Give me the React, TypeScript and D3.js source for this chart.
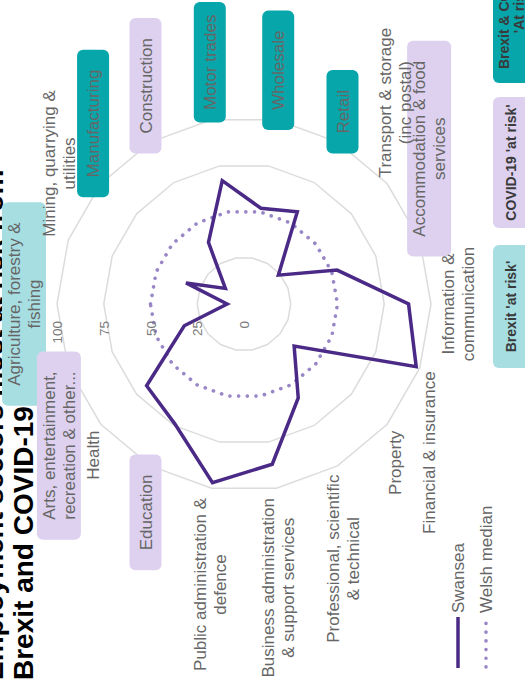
import React, { useEffect, useRef } from 'react';
import * as d3 from 'd3';

const sectors = [
  'Agriculture, forestry &\nfishing',
  'Mining, quarrying &\nutilities',
  'Manufacturing',
  'Construction',
  'Motor trades',
  'Wholesale',
  'Retail',
  'Transport & storage\n(inc postal)',
  'Accommodation & food\nservices',
  'Information &\ncommunication',
  'Financial & insurance',
  'Property',
  'Professional, scientific\n& technical',
  'Business administration\n& support services',
  'Public administration &\ndefence',
  'Education',
  'Health',
  'Arts, entertainment,\nrecreation & other...',
];
const riskGroups = ['brexit', 'none', 'both', 'covid', 'both', 'both', 'both', 'none', 'covid', 'none', 'none', 'none', 'none', 'none', 'none', 'covid', 'none', 'covid'];
const swansea = [9, 33, 13, 38, 67, 52, 57, 24, 53, 88, 98, 35, 58, 87, 97, 74, 68, 34];
const welshMedian = [50, 50, 50, 50, 50, 50, 50, 50, 50, 50, 50, 50, 50, 50, 50, 50, 50, 50];
const gridLevels = [25, 75, 100];
const tickValues = [0, 25, 50, 75, 100];
const tickLabels = ['0', '25', '50', '75', '100'];
const riskKeys = ['brexit', 'covid', 'both'];
const riskLabels = ["Brexit 'at risk'", "COVID-19 'at risk'", "Brexit & COVID-19\n'At risk'"];
const seriesNames = ['Swansea', 'Welsh median'];
const titleLines = ['Employment sectors most at risk from', 'Brexit and COVID-19'];

const riskColors: Record<string, string> = { brexit: '#a6dee2', covid: '#ddd1ef', both: '#07a6ab' };
const FONT = "'Liberation Sans', Arial, Helvetica, sans-serif";

export default function App() {
  const ref = useRef<SVGSVGElement>(null);
  useEffect(() => {
    const svg = d3.select(ref.current);
    svg.selectAll('*').remove();
    const W = 686; // original (unrotated) width
    const cx = 382, cy = 244, R = 187;
    const g = svg.append('g').attr('transform', `translate(0,${W}) rotate(-90)`).attr('font-family', FONT);

    const r = d3.scaleLinear().domain([0, 100]).range([0, R]);
    const n = sectors.length;
    const ang = d3.scaleLinear().domain([0, n]).range([0, 2 * Math.PI]);
    const radial = (vals: number[]) =>
      d3.lineRadial<number>().angle((_, i) => ang(i)).radius((d) => r(d)).curve(d3.curveLinearClosed)(vals) as string;

    // title
    titleLines.forEach((t, i) => {
      g.append('text').attr('x', 6).attr('y', 3 + i * 30).attr('font-size', 28).attr('font-weight', 'bold').attr('fill', '#000').text(t);
    });

    const plot = g.append('g').attr('transform', `translate(${cx},${cy})`);
    gridLevels.forEach((v) => {
      plot.append('path').attr('d', radial(sectors.map(() => v))).attr('fill', 'none').attr('stroke', '#dcdcdc').attr('stroke-width', 1.5);
    });

    // tick labels
    tickValues.forEach((v, i) => {
      g.append('text').attr('x', cx - 17).attr('y', cy - r(v) + 5).attr('text-anchor', 'end')
        .attr('font-size', 13.5).attr('fill', '#7a7a7a').text(tickLabels[i]);
    });

    // median dotted
    plot.append('path').attr('d', radial(welshMedian)).attr('fill', 'none').attr('stroke', '#9886c6')
      .attr('stroke-width', 3.6).attr('stroke-linecap', 'round').attr('stroke-dasharray', '0.1 8.6');
    // Swansea
    plot.append('path').attr('d', radial(swansea)).attr('fill', 'none').attr('stroke', '#4a2a86')
      .attr('stroke-width', 3.5).attr('stroke-linejoin', 'miter');

    // point labels
    const boxLayer = g.append('g');
    const labelLayer = g.append('g');
    sectors.forEach((s, i) => {
      const a = ang(i);
      const sin = Math.sin(a), cos = Math.cos(a);
      const ax = cx + (R + 10) * sin, ay = cy - (R + 10) * cos;
      const lines = s.split('\n');
      const fs = 17, lh = 20;
      const text = labelLayer.append('text').attr('font-size', fs).attr('fill', '#666').attr('text-anchor', 'middle');
      const tspans = lines.map((l) => text.append('tspan').text(l));
      const w = d3.max(tspans, (t) => (t.node() as SVGTSpanElement).getComputedTextLength()) as number;
      const bx = Math.abs(sin) < 1e-6 ? ax : sin > 0 ? ax + w / 2 : ax - w / 2;
      const blockH = (lines.length - 1) * lh;
      let firstBase: number;
      if (Math.abs(sin) < 1e-6 && cos > 0) firstBase = ay - 7 - blockH;
      else if (Math.abs(sin) < 1e-6 && cos < 0) firstBase = ay + 13;
      else firstBase = ay - blockH / 2 + 6;
      tspans.forEach((t, k) => t.attr('x', bx).attr('y', firstBase + k * lh));
      if (riskGroups[i] !== 'none') {
        const midY = firstBase - 6 + blockH / 2;
        const bh = lines.length === 1 ? 32 : 44;
        const pad = Math.min(20, W - 2 - (bx + w / 2), bx - w / 2 - 2);
        boxLayer.append('rect').attr('x', bx - w / 2 - pad).attr('y', midY - bh / 2)
          .attr('width', w + 2 * pad).attr('height', bh).attr('rx', 6).attr('fill', riskColors[riskGroups[i]]);
      }
    });

    // series legend
    const lg = g.append('g');
    lg.append('line').attr('x1', 18).attr('x2', 69).attr('y1', 458).attr('y2', 458).attr('stroke', '#4a2a86').attr('stroke-width', 3.5);
    lg.append('text').attr('x', 73).attr('y', 464).attr('font-size', 17).attr('fill', '#666').text(seriesNames[0]);
    lg.append('line').attr('x1', 19).attr('x2', 66).attr('y1', 486).attr('y2', 486).attr('stroke', '#9886c6')
      .attr('stroke-width', 3.6).attr('stroke-linecap', 'round').attr('stroke-dasharray', '0.1 8.6');
    lg.append('text').attr('x', 73).attr('y', 492).attr('font-size', 17).attr('fill', '#666').text(seriesNames[1]);

    // risk legend boxes
    const boxX = [318, 458, 603];
    const boxW = [123, 131, 150];
    riskKeys.forEach((k, i) => {
      g.append('rect').attr('x', boxX[i]).attr('y', 493).attr('width', boxW[i]).attr('height', 40).attr('rx', 6).attr('fill', riskColors[k]);
      const lines = riskLabels[i].split('\n');
      const t = g.append('text').attr('font-size', 14).attr('font-weight', 'bold').attr('fill', '#3a3a3a').attr('text-anchor', 'middle');
      const first = 516 - ((lines.length - 1) * 15) / 2;
      lines.forEach((l, j) => t.append('tspan').attr('x', boxX[i] + boxW[i] / 2).attr('y', first + j * 15).text(l));
    });
  }, []);

  return (
    <svg ref={ref} width={525} height={686}
      style={{ position: 'absolute', left: 0, top: 0, background: '#fff', overflow: 'hidden' }} />
  );
}
